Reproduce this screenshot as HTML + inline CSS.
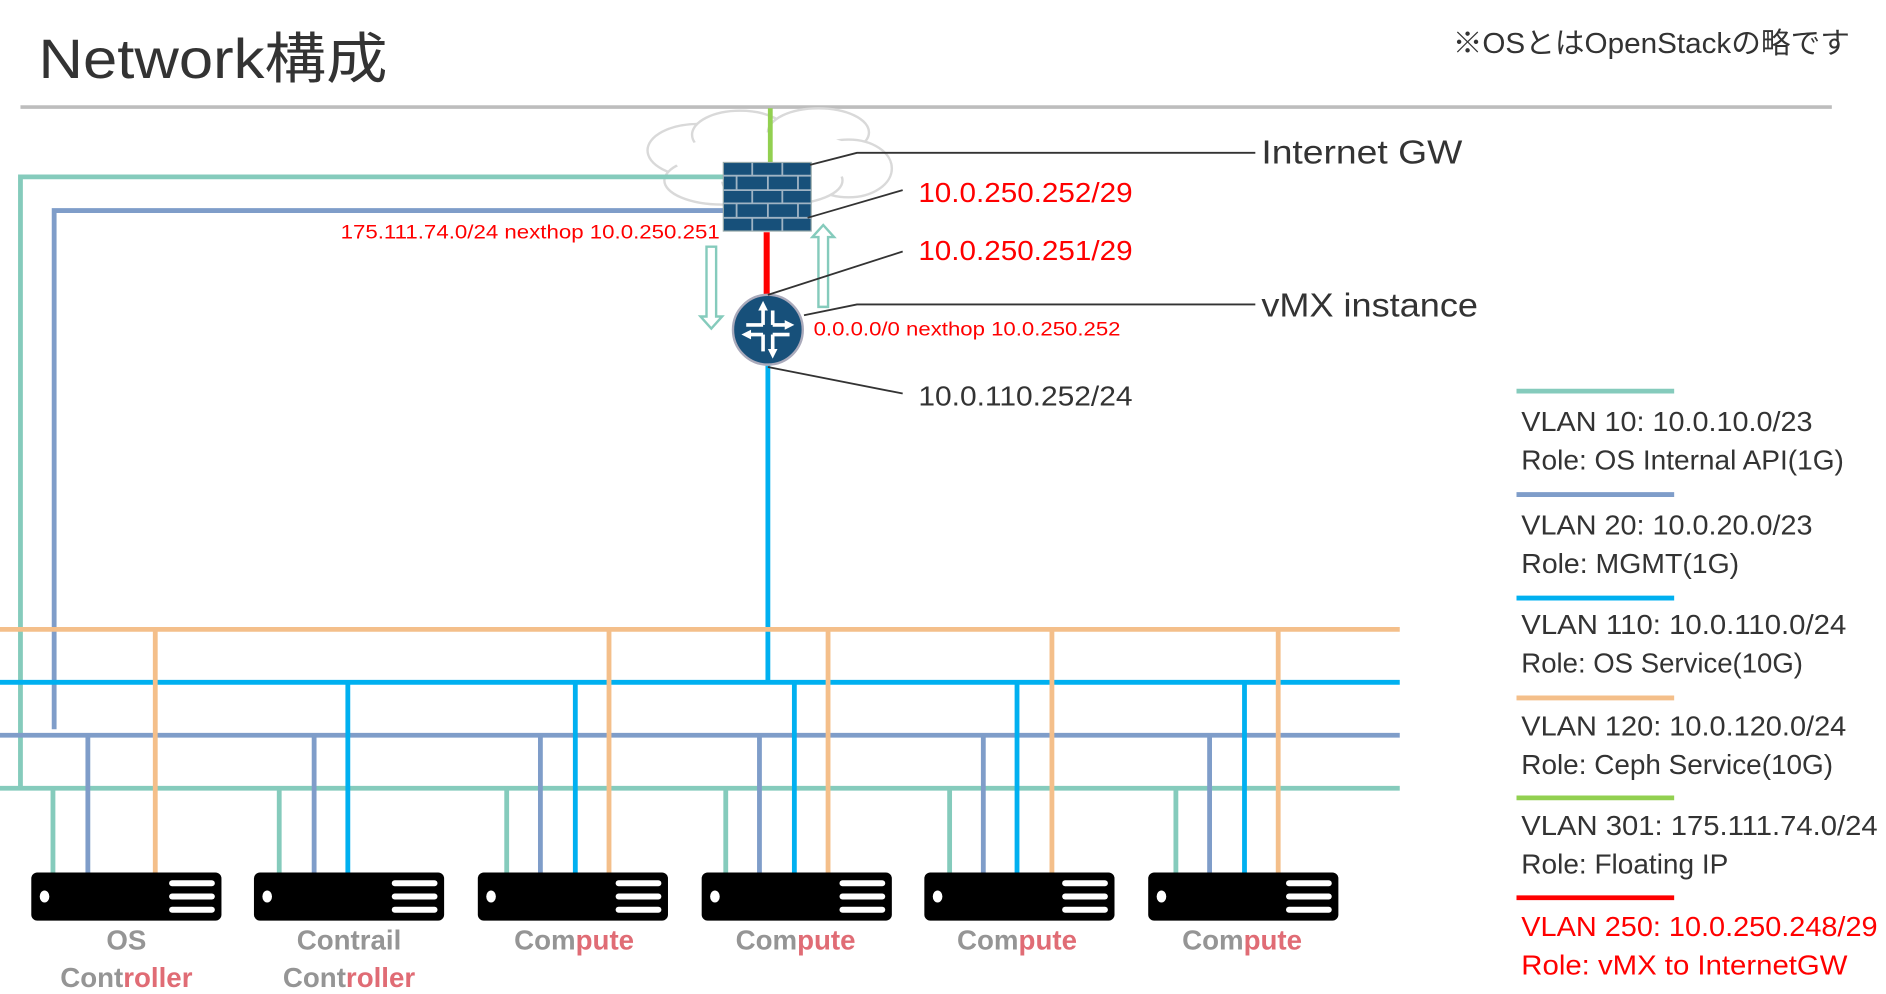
<!DOCTYPE html>
<html><head><meta charset="utf-8"><style>
html,body{margin:0;padding:0;background:#fff;}
svg{display:block;}
text{font-family:"Liberation Sans","Noto Sans CJK JP",sans-serif;}
</style></head><body>
<svg width="1886" height="994" viewBox="0 0 1567 826" preserveAspectRatio="none" xmlns="http://www.w3.org/2000/svg">
<text x="32" y="65" font-size="46" fill="#333" textLength="290" lengthAdjust="spacingAndGlyphs">Network構成</text>
<text x="1207" y="44" font-size="24" fill="#333" textLength="330" lengthAdjust="spacingAndGlyphs">※OSとはOpenStackの略です</text>
<line x1="17" y1="89" x2="1522" y2="89" stroke="#bdbdbd" stroke-width="3"/>
<g fill="#fff" stroke="#d9d9d9" stroke-width="2">
<ellipse cx="580" cy="125" rx="42" ry="22"/>
<ellipse cx="600" cy="150" rx="48" ry="20"/>
<ellipse cx="615" cy="112" rx="40" ry="20"/>
<ellipse cx="680" cy="110" rx="42" ry="20"/>
<ellipse cx="705" cy="140" rx="36" ry="24"/>
<ellipse cx="650" cy="150" rx="50" ry="20"/>
</g>
<ellipse cx="640" cy="132" rx="80" ry="22" fill="#fff"/>
<line x1="640" y1="90" x2="640" y2="136" stroke="#92d050" stroke-width="4"/>
<polyline points="601,147 17,147 17,655" fill="none" stroke="#85cbbc" stroke-width="4"/>
<polyline points="601,175 45,175 45,606" fill="none" stroke="#7f9dc9" stroke-width="4"/>
<rect x="601" y="135" width="73" height="57" fill="#17507a" stroke="#9aa" stroke-width="1"/>
<g stroke="#9fb4c4" stroke-width="1.5">
<line x1="601" y1="146" x2="674" y2="146"/><line x1="601" y1="158" x2="674" y2="158"/>
<line x1="601" y1="169" x2="674" y2="169"/><line x1="601" y1="181" x2="674" y2="181"/>
<line x1="625" y1="135" x2="625" y2="146"/><line x1="650" y1="135" x2="650" y2="146"/>
<line x1="612" y1="146" x2="612" y2="158"/><line x1="638" y1="146" x2="638" y2="158"/><line x1="663" y1="146" x2="663" y2="158"/>
<line x1="625" y1="158" x2="625" y2="169"/><line x1="650" y1="158" x2="650" y2="169"/>
<line x1="612" y1="169" x2="612" y2="181"/><line x1="638" y1="169" x2="638" y2="181"/><line x1="663" y1="169" x2="663" y2="181"/>
<line x1="625" y1="181" x2="625" y2="192"/><line x1="650" y1="181" x2="650" y2="192"/>
</g>
<line x1="637" y1="193" x2="637" y2="246" stroke="#ff0000" stroke-width="5"/>
<line x1="638" y1="303" x2="638" y2="567" stroke="#00b0f0" stroke-width="4"/>
<circle cx="638" cy="274" r="29" fill="#17507a" stroke="#aab" stroke-width="2"/>
<g stroke="#fff" stroke-width="3" fill="#fff">
<line x1="634" y1="256" x2="634" y2="270"/><line x1="642" y1="278" x2="642" y2="292"/>
<line x1="642" y1="258" x2="642" y2="270"/><line x1="642" y1="270" x2="656" y2="270"/>
<line x1="620" y1="278" x2="634" y2="278"/><line x1="634" y1="278" x2="634" y2="292"/>
<line x1="620" y1="270" x2="634" y2="270"/><line x1="642" y1="278" x2="656" y2="278"/>
</g>
<g fill="#fff"><polygon points="634,250 630,258 638,258"/><polygon points="642,298 638,290 646,290"/><polygon points="660,270 652,266 652,274"/><polygon points="616,278 624,274 624,282"/></g>
<polygon points="587,205 595,205 595,263 600,263 591,273 582,263 587,263" fill="#fff" stroke="#85cbbc" stroke-width="2"/>
<polygon points="680,255 688,255 688,197 693,197 684,187 675,197 680,197" fill="#fff" stroke="#85cbbc" stroke-width="2"/>
<g stroke="#333" stroke-width="1.5" fill="none">
<polyline points="673,137 712,127 1043,127"/>
<line x1="671" y1="181" x2="750" y2="158"/>
<line x1="638" y1="245" x2="750" y2="209"/>
<polyline points="668,262 712,253 1043,253"/>
<line x1="638" y1="305" x2="750" y2="327"/>
</g>
<g lengthAdjust="spacingAndGlyphs">
<text x="1048" y="136" font-size="28" fill="#333" textLength="167" lengthAdjust="spacingAndGlyphs">Internet GW</text>
<text x="1048" y="263" font-size="28" fill="#333" textLength="180" lengthAdjust="spacingAndGlyphs">vMX instance</text>
<text x="763" y="168" font-size="23" fill="#f00" textLength="178" lengthAdjust="spacingAndGlyphs">10.0.250.252/29</text>
<text x="763" y="216" font-size="23" fill="#f00" textLength="178" lengthAdjust="spacingAndGlyphs">10.0.250.251/29</text>
<text x="763" y="337" font-size="23" fill="#333" textLength="178" lengthAdjust="spacingAndGlyphs">10.0.110.252/24</text>
</g>
<text x="676" y="279" font-size="16" fill="#f00" textLength="255" lengthAdjust="spacingAndGlyphs">0.0.0.0/0 nexthop 10.0.250.252</text>
<text x="283" y="198" font-size="16" fill="#f00" textLength="315" lengthAdjust="spacingAndGlyphs">175.111.74.0/24 nexthop 10.0.250.251</text>
<line x1="0" y1="523" x2="1163" y2="523" stroke="#f4bf8a" stroke-width="4"/>
<line x1="0" y1="567" x2="1163" y2="567" stroke="#00b0f0" stroke-width="4"/>
<line x1="0" y1="611" x2="1163" y2="611" stroke="#7f9dc9" stroke-width="4"/>
<line x1="0" y1="655" x2="1163" y2="655" stroke="#85cbbc" stroke-width="4"/>
<g stroke-width="4">
<g stroke="#85cbbc"><line x1="44" y1="655" x2="44" y2="726"/><line x1="232" y1="655" x2="232" y2="726"/><line x1="421" y1="655" x2="421" y2="726"/><line x1="603" y1="655" x2="603" y2="726"/><line x1="789" y1="655" x2="789" y2="726"/><line x1="977" y1="655" x2="977" y2="726"/></g>
<g stroke="#7f9dc9"><line x1="73" y1="611" x2="73" y2="726"/><line x1="261" y1="611" x2="261" y2="726"/><line x1="449" y1="611" x2="449" y2="726"/><line x1="631" y1="611" x2="631" y2="726"/><line x1="817" y1="611" x2="817" y2="726"/><line x1="1005" y1="611" x2="1005" y2="726"/></g>
<g stroke="#00b0f0"><line x1="289" y1="567" x2="289" y2="726"/><line x1="478" y1="567" x2="478" y2="726"/><line x1="660" y1="567" x2="660" y2="726"/><line x1="845" y1="567" x2="845" y2="726"/><line x1="1034" y1="567" x2="1034" y2="726"/></g>
<g stroke="#f4bf8a"><line x1="129" y1="523" x2="129" y2="726"/><line x1="506" y1="523" x2="506" y2="726"/><line x1="688" y1="523" x2="688" y2="726"/><line x1="874" y1="523" x2="874" y2="726"/><line x1="1062" y1="523" x2="1062" y2="726"/></g>
</g>
<g id="srv">
<rect x="26" y="725" width="158" height="40" rx="5" fill="#000"/>
<ellipse cx="37" cy="745" rx="4" ry="5" fill="#fff"/>
<g stroke="#fff" stroke-width="5" stroke-linecap="round"><line x1="143" y1="734" x2="176" y2="734"/><line x1="143" y1="745" x2="176" y2="745"/><line x1="143" y1="756" x2="176" y2="756"/></g>
</g>
<use href="#srv" x="185"/><use href="#srv" x="371"/><use href="#srv" x="557"/><use href="#srv" x="742"/><use href="#srv" x="928"/>
<g font-size="23" font-weight="bold" text-anchor="middle" fill="#959595">
<text x="105" y="789">OS</text>
<text x="105" y="820">Cont<tspan fill="#e06c75">roller</tspan></text>
<text x="290" y="789">Contrail</text>
<text x="290" y="820">Cont<tspan fill="#e06c75">roller</tspan></text>
<text x="477" y="789">Com<tspan fill="#e06c75">pute</tspan></text>
<text x="661" y="789">Com<tspan fill="#e06c75">pute</tspan></text>
<text x="845" y="789">Com<tspan fill="#e06c75">pute</tspan></text>
<text x="1032" y="789">Com<tspan fill="#e06c75">pute</tspan></text>
</g>
<g stroke-width="4">
<line x1="1260" y1="325" x2="1391" y2="325" stroke="#85cbbc"/>
<line x1="1260" y1="411" x2="1391" y2="411" stroke="#7f9dc9"/>
<line x1="1260" y1="497" x2="1391" y2="497" stroke="#00b0f0"/>
<line x1="1260" y1="580" x2="1391" y2="580" stroke="#f4bf8a"/>
<line x1="1260" y1="663" x2="1391" y2="663" stroke="#92d050"/>
<line x1="1260" y1="746" x2="1391" y2="746" stroke="#ff0000"/>
</g>
<g font-size="23" fill="#333">
<text x="1264" y="358" textLength="242" lengthAdjust="spacingAndGlyphs">VLAN 10: 10.0.10.0/23</text>
<text x="1264" y="390" textLength="268" lengthAdjust="spacingAndGlyphs">Role: OS Internal API(1G)</text>
<text x="1264" y="444" textLength="242" lengthAdjust="spacingAndGlyphs">VLAN 20: 10.0.20.0/23</text>
<text x="1264" y="476" textLength="181" lengthAdjust="spacingAndGlyphs">Role: MGMT(1G)</text>
<text x="1264" y="527" textLength="270" lengthAdjust="spacingAndGlyphs">VLAN 110: 10.0.110.0/24</text>
<text x="1264" y="559" textLength="234" lengthAdjust="spacingAndGlyphs">Role: OS Service(10G)</text>
<text x="1264" y="611" textLength="270" lengthAdjust="spacingAndGlyphs">VLAN 120: 10.0.120.0/24</text>
<text x="1264" y="643" textLength="259" lengthAdjust="spacingAndGlyphs">Role: Ceph Service(10G)</text>
<text x="1264" y="694" textLength="296" lengthAdjust="spacingAndGlyphs">VLAN 301: 175.111.74.0/24</text>
<text x="1264" y="726" textLength="172" lengthAdjust="spacingAndGlyphs">Role: Floating IP</text>
<text x="1264" y="778" fill="#f00" textLength="296" lengthAdjust="spacingAndGlyphs">VLAN 250: 10.0.250.248/29</text>
<text x="1264" y="810" fill="#f00" textLength="271" lengthAdjust="spacingAndGlyphs">Role: vMX to InternetGW</text>
</g>
</svg>
</body></html>
